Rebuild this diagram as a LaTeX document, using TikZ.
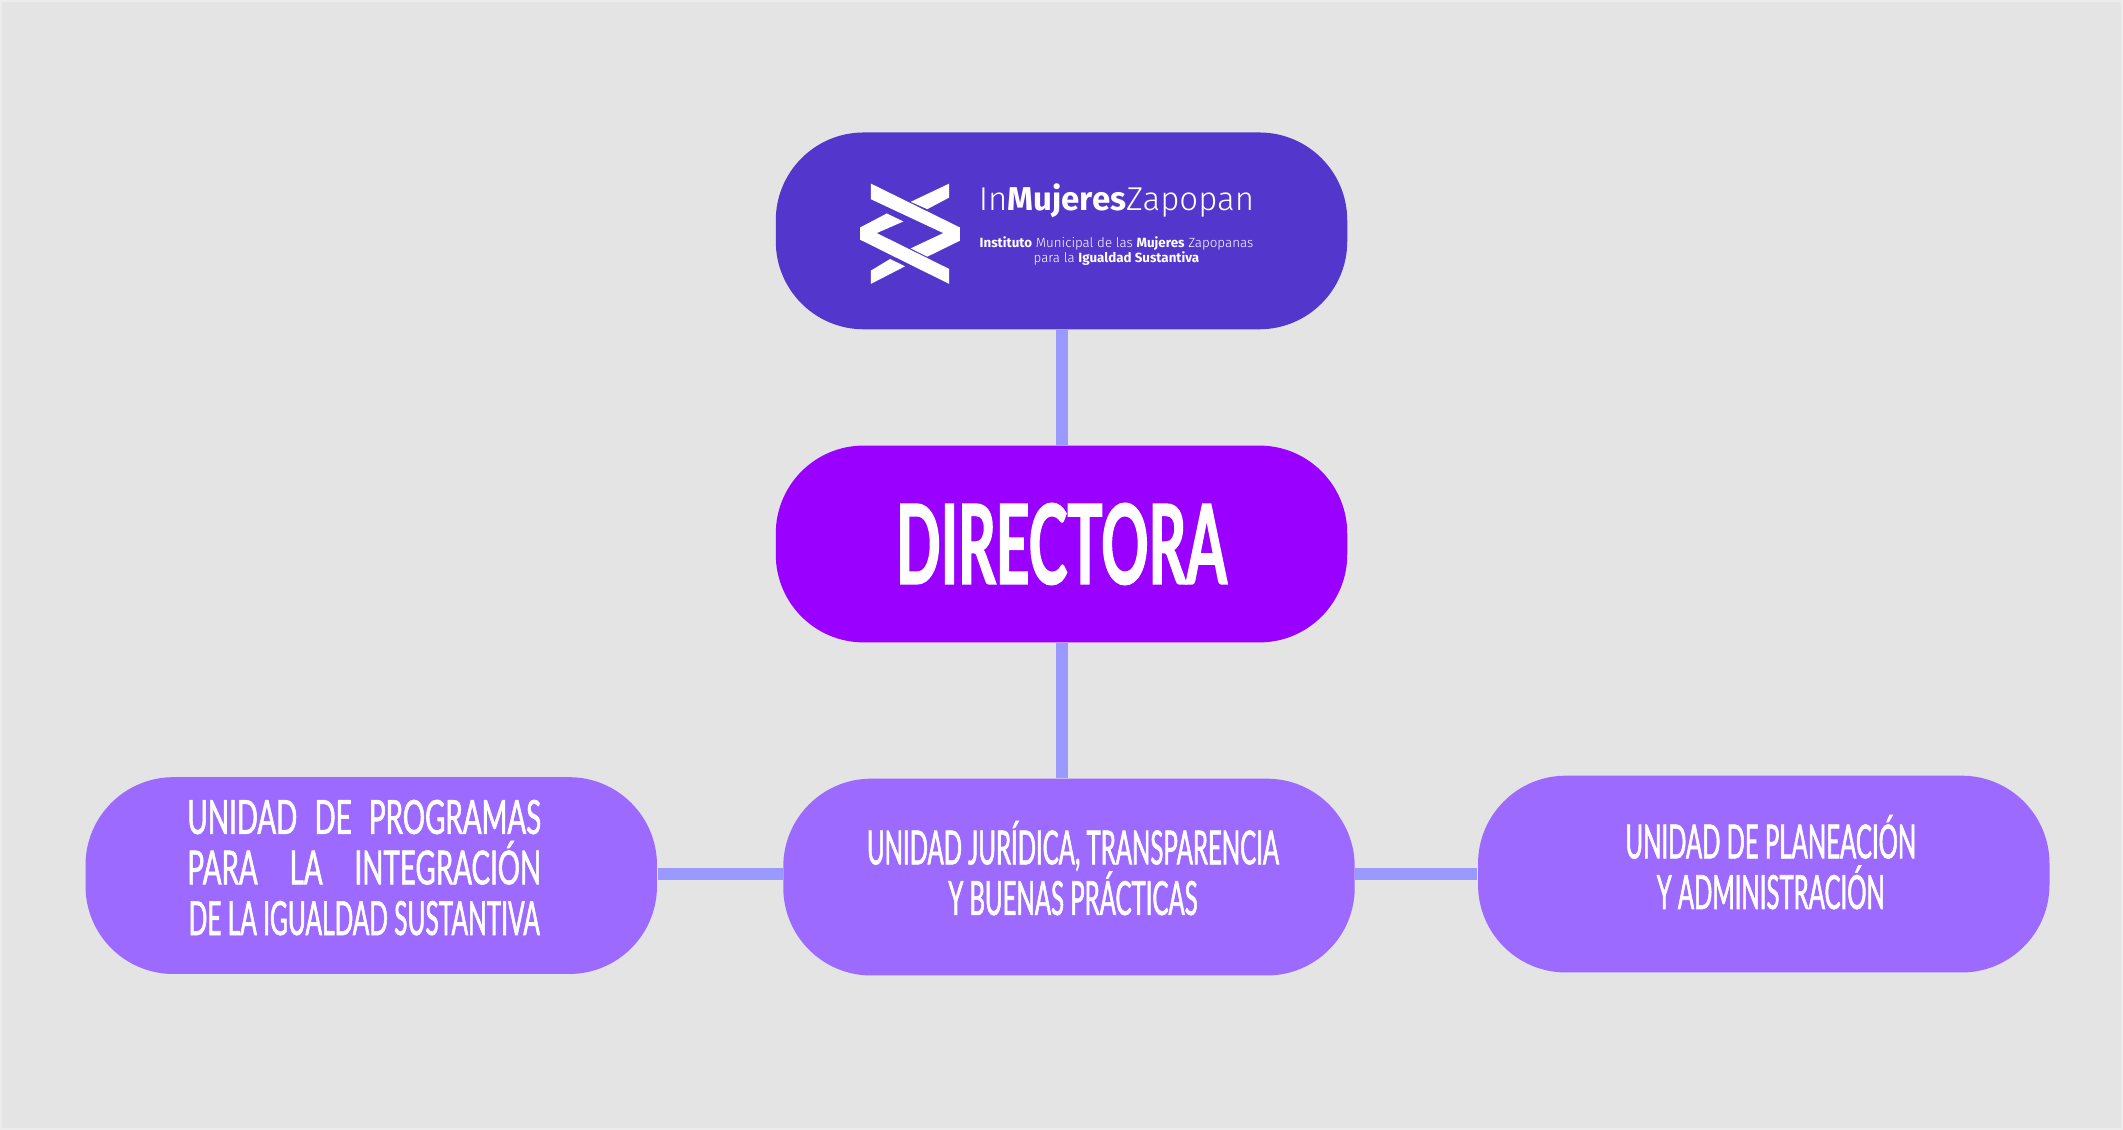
\documentclass[tikz,border=0pt]{standalone}
\usepackage{fontspec}
\usetikzlibrary{positioning}
\newfontfamily\unitfont[FakeStretch=0.51,FakeBold=1.2]{Lato}
\newfontfamily\widefont[FakeStretch=0.59,FakeBold=1.2]{Lato}
\newfontfamily\lastfont[FakeStretch=0.52,FakeBold=1.2]{Lato}
\newfontfamily\bossfont[FakeStretch=0.53,FakeBold=1.2]{Lato}
\newfontfamily\logofont[BoldFont={Fira Sans Bold}]{Fira Sans Light}
\definecolor{colorBack}{HTML}{E4E4E4}
\definecolor{colorEdge}{HTML}{ECECEC}
\definecolor{colorLogo}{HTML}{5337CC}
\definecolor{colorBoss}{HTML}{9900FF}
\definecolor{colorUnit}{HTML}{9C6AFF}
\definecolor{colorLink}{HTML}{9999FF}
\newcommand{\spreadline}[1]{\makebox[3.54cm][s]{\widefont #1}}
\tikzset{
  pillbox/.style={rounded corners=.88cm, minimum width=5.72cm, minimum height=1.97cm, inner sep=0pt},
  unitlabel/.style={text=white, align=center, inner sep=0pt, font=\unitfont\fontsize{13.4}{14.4}\selectfont},
  linkbar/.style={colorLink, line width=.12cm},
  markpart/.style={fill=white}
}
\begin{document}
\begin{tikzpicture}
\fill[colorBack, draw=colorEdge, line width=.02cm] (0,0) rectangle (21.23,11.29);
\useasboundingbox (0,0) rectangle (21.23,11.29);
\node[pillbox, fill=colorBoss, text=white, font=\bossfont\bfseries\fontsize{31.5}{34}\selectfont] (dir) at (10.615,5.855) {DIRECTORA};
\node[pillbox, fill=colorLogo, above=1.15cm of dir] (logo) {};
\node[pillbox, fill=colorUnit, below=1.35cm of dir, xshift=.075cm] (legal) {};
\node[pillbox, fill=colorUnit, left=1.25cm of legal, yshift=.015cm] (progr) {};
\node[pillbox, fill=colorUnit, right=1.22cm of legal, yshift=.03cm] (plan) {};
\coordinate (legalbar) at ([yshift=.035cm]legal.center);
% connectors
\draw[linkbar] (logo) -- (dir);
\draw[linkbar] (dir.south) -- (dir.south |- legal.north);
\draw[linkbar] (progr.east |- legalbar) -- (legal.west |- legalbar);
\draw[linkbar] (plan.west |- legalbar) -- (legal.east |- legalbar);
% labels
\node[unitlabel] (progrtext) at ([xshift=-.07cm,yshift=.08cm]progr.center) {\spreadline{UNIDAD DE PROGRAMAS}\\\spreadline{PARA LA INTEGRACIÓN}\\{\lastfont DE LA IGUALDAD SUSTANTIVA}};
\node[unitlabel] (legaltext) at ([xshift=.04cm,yshift=.09cm]legal.center) {UNIDAD JURÍDICA, TRANSPARENCIA\\Y BUENAS PRÁCTICAS};
\node[unitlabel] (plantext) at ([xshift=.07cm,yshift=.12cm]plan.center) {UNIDAD DE PLANEACIÓN\\Y ADMINISTRACIÓN};
% logo
\node[text=white, anchor=base, inner sep=0pt, font=\logofont\fontsize{9.4}{10}\selectfont] (logotitle) at ([xshift=.55cm,yshift=.2cm]logo.center) {In\textbf{Mujeres}Zapopan};
\node[text=white, align=center, inner sep=0pt, font=\logofont\fontsize{3.8}{4.3}\selectfont] (logosub) at ([xshift=.55cm,yshift=-.2cm]logo.center) {\textbf{Instituto} Municipal de las \textbf{Mujeres} Zapopanas\\para la \textbf{Igualdad Sustantiva}};
\begin{scope}[shift={([xshift=-2.115cm,yshift=.55cm]logo.center)}, x=.00333cm, y=-.00333cm]
\fill[markpart] (62,23) -- (330,155) -- (330,195) -- (232,243) -- (182,218) -- (280,172) -- (62,70) -- cycle;
\fill[markpart] (298,23) -- (298,65) -- (232,100) -- (182,78) -- cycle;
\fill[markpart] (110,113) -- (160,137) -- (80,172) -- (298,280) -- (298,325) -- (30,192) -- (30,155) -- cycle;
\fill[markpart] (62,285) -- (120,250) -- (165,272) -- (62,325) -- cycle;
\end{scope}
\end{tikzpicture}
\end{document}
